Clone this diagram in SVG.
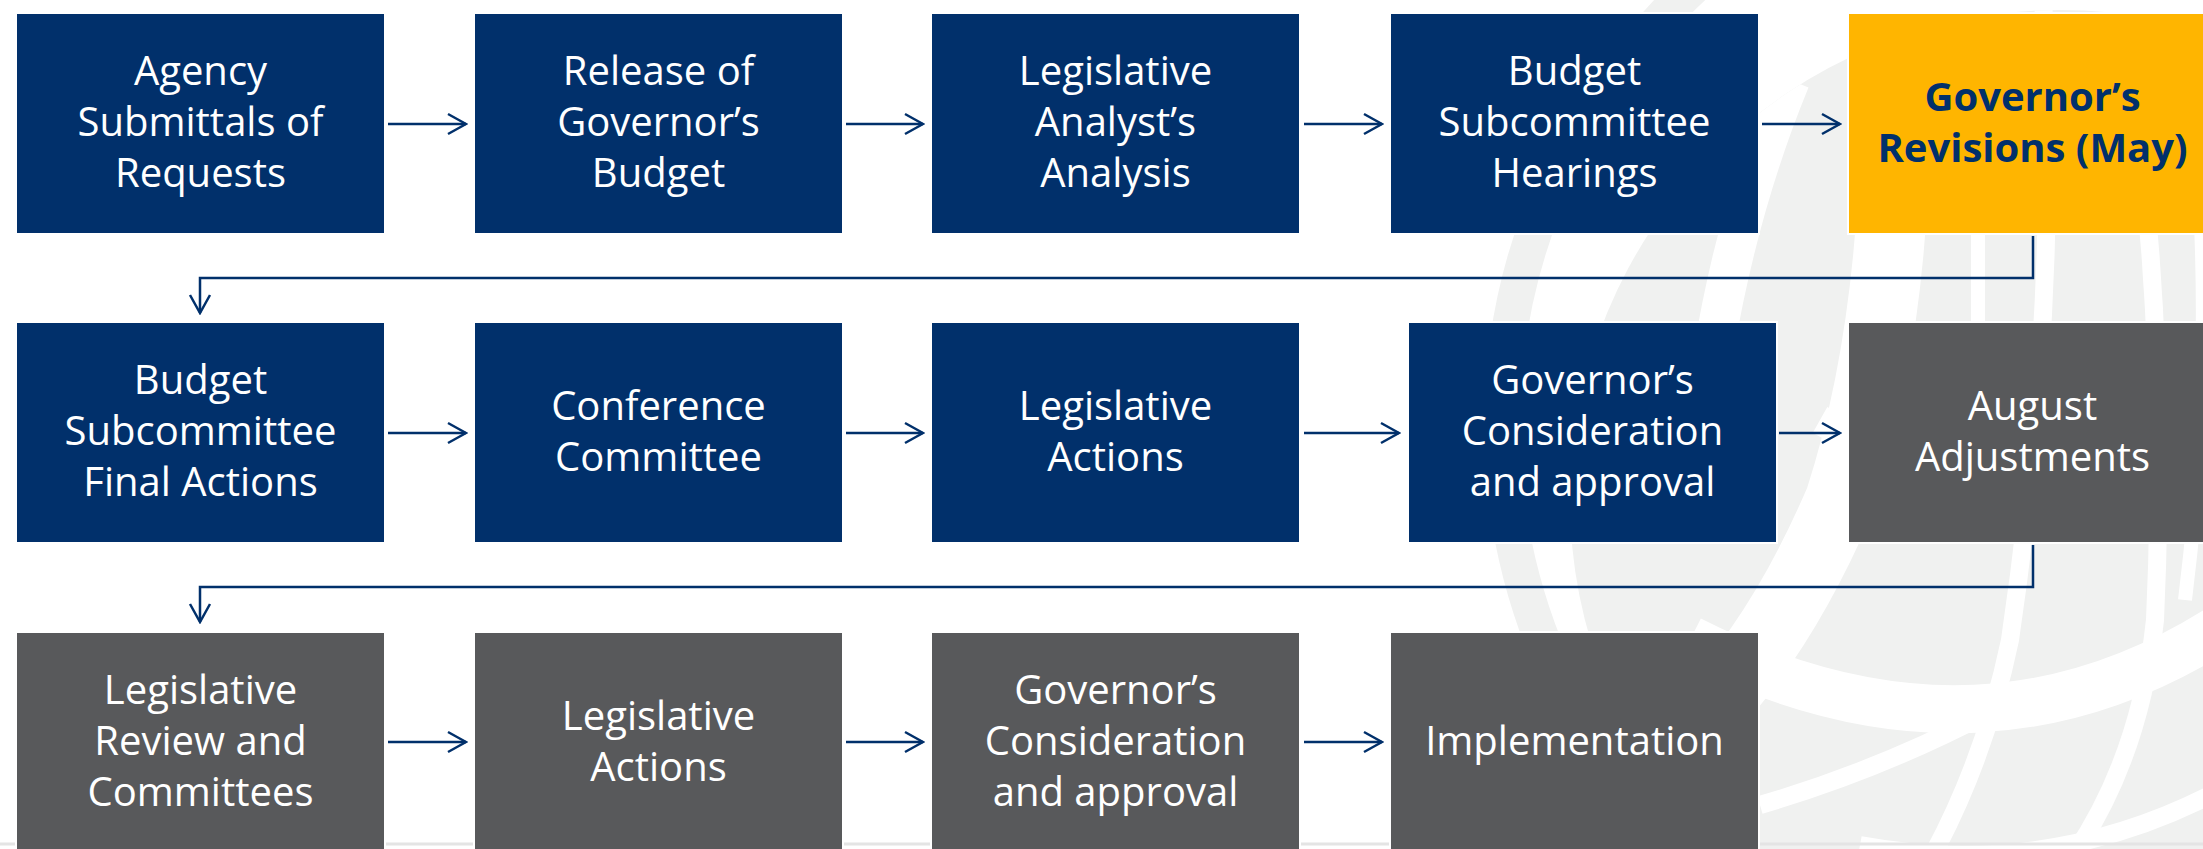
<svg xmlns="http://www.w3.org/2000/svg" width="2203" height="849" viewBox="0 0 2203 849">
<style>
.navy{fill:#01306B;stroke:#ffffff;stroke-width:2}
.gold{fill:#FFB500;stroke:#ffffff;stroke-width:2}
.gray{fill:#58595B;stroke:#ffffff;stroke-width:2}
.t{font-family:"Open Sans","Noto Sans","Liberation Sans",sans-serif;font-size:40px;fill:#ffffff;text-anchor:middle}
.tb{font-family:"Open Sans","Noto Sans","Liberation Sans",sans-serif;font-size:40px;font-weight:bold;fill:#01306B;text-anchor:middle}
.conn{fill:none;stroke:#01306B;stroke-width:2.5}
.wm{fill:none;stroke:#F0F1F0}
.wl{fill:none;stroke:#ffffff}
</style>
<defs>
<marker id="arr" markerUnits="userSpaceOnUse" markerWidth="22" markerHeight="24" viewBox="0 0 22 24" refX="20" refY="12" orient="auto">
<path d="M2,2 L20,12 L2,22" fill="none" stroke="#01306B" stroke-width="2.5"/>
</marker>
<clipPath id="globe"><circle cx="2060" cy="500" r="490"/></clipPath>
</defs>
<rect width="2203" height="849" fill="#ffffff"/>
<g id="watermark">
<circle class="wm" cx="2100" cy="425" r="598" stroke-width="36"/>
<g clip-path="url(#globe)">
<rect x="1500" y="0" width="703" height="849" fill="#F0F1F0"/>
<path class="wl" d="M1895,0 Q1905,300 1840,500 Q1780,640 1700,720" stroke-width="70"/>
<path class="wl" d="M1700,455 Q1720,250 1790,80" stroke-width="40"/>
<path class="wl" d="M1978,0 L1978,340" stroke-width="14"/>
<path class="wl" d="M2043,0 Q2060,300 2010,640 Q1985,760 1930,860" stroke-width="18"/>
<path class="wl" d="M2120,0 Q2170,300 2155,620 Q2140,760 2070,860" stroke-width="18"/>
<path class="wl" d="M2200,200 Q2210,400 2185,600" stroke-width="14"/>
<path class="wl" d="M1690,640 Q1985,790 2240,615" stroke-width="48"/>
<path class="wl" d="M1760,805 Q1880,770 1990,712" stroke-width="18"/>
<path class="wl" d="M1820,420 Q2000,520 2220,400" stroke-width="30"/>
<path class="wl" d="M1860,845 Q2050,880 2220,790" stroke-width="18"/>
</g>
</g>
<line x1="0" y1="844" x2="2203" y2="844" stroke="#E4E4E4" stroke-width="3"/>
<g id="connectors">
<line class="conn" x1="388" y1="124" x2="466" y2="124" marker-end="url(#arr)"/>
<line class="conn" x1="846" y1="124" x2="923" y2="124" marker-end="url(#arr)"/>
<line class="conn" x1="1304" y1="124" x2="1382" y2="124" marker-end="url(#arr)"/>
<line class="conn" x1="1762" y1="124" x2="1840" y2="124" marker-end="url(#arr)"/>
<polyline class="conn" points="2033,236 2033,278 200,278 200,313" marker-end="url(#arr)"/>
<line class="conn" x1="388" y1="433" x2="466" y2="433" marker-end="url(#arr)"/>
<line class="conn" x1="846" y1="433" x2="923" y2="433" marker-end="url(#arr)"/>
<line class="conn" x1="1304" y1="433" x2="1399" y2="433" marker-end="url(#arr)"/>
<line class="conn" x1="1779" y1="433" x2="1840" y2="433" marker-end="url(#arr)"/>
<polyline class="conn" points="2033,545 2033,587 200,587 200,622" marker-end="url(#arr)"/>
<line class="conn" x1="388" y1="742" x2="466" y2="742" marker-end="url(#arr)"/>
<line class="conn" x1="846" y1="742" x2="923" y2="742" marker-end="url(#arr)"/>
<line class="conn" x1="1304" y1="742" x2="1382" y2="742" marker-end="url(#arr)"/>
</g>
<g id="n1"><rect class="navy" x="16" y="13" width="369" height="221"/><text class="t" x="200.5" y="85">Agency</text><text class="t" x="200.5" y="136">Submittals of</text><text class="t" x="200.5" y="187">Requests</text></g>
<g id="n2"><rect class="navy" x="474" y="13" width="369" height="221"/><text class="t" x="658.5" y="85">Release of</text><text class="t" x="658.5" y="136">Governor’s</text><text class="t" x="658.5" y="187">Budget</text></g>
<g id="n3"><rect class="navy" x="931" y="13" width="369" height="221"/><text class="t" x="1115.5" y="85">Legislative</text><text class="t" x="1115.5" y="136">Analyst’s</text><text class="t" x="1115.5" y="187">Analysis</text></g>
<g id="n4"><rect class="navy" x="1390" y="13" width="369" height="221"/><text class="t" x="1574.5" y="85">Budget</text><text class="t" x="1574.5" y="136">Subcommittee</text><text class="t" x="1574.5" y="187">Hearings</text></g>
<g id="n5"><rect class="gold" x="1848" y="13" width="369" height="221"/><text class="tb" x="2032.5" y="110.5">Governor’s</text><text class="tb" x="2032.5" y="161.5">Revisions (May)</text></g>
<g id="n6"><rect class="navy" x="16" y="322" width="369" height="221"/><text class="t" x="200.5" y="394">Budget</text><text class="t" x="200.5" y="445">Subcommittee</text><text class="t" x="200.5" y="496">Final Actions</text></g>
<g id="n7"><rect class="navy" x="474" y="322" width="369" height="221"/><text class="t" x="658.5" y="419.5">Conference</text><text class="t" x="658.5" y="470.5">Committee</text></g>
<g id="n8"><rect class="navy" x="931" y="322" width="369" height="221"/><text class="t" x="1115.5" y="419.5">Legislative</text><text class="t" x="1115.5" y="470.5">Actions</text></g>
<g id="n9"><rect class="navy" x="1408" y="322" width="369" height="221"/><text class="t" x="1592.5" y="394">Governor’s</text><text class="t" x="1592.5" y="445">Consideration</text><text class="t" x="1592.5" y="496">and approval</text></g>
<g id="n10"><rect class="gray" x="1848" y="322" width="369" height="221"/><text class="t" x="2032.5" y="419.5">August</text><text class="t" x="2032.5" y="470.5">Adjustments</text></g>
<g id="n11"><rect class="gray" x="16" y="632" width="369" height="221"/><text class="t" x="200.5" y="704">Legislative</text><text class="t" x="200.5" y="755">Review and</text><text class="t" x="200.5" y="806">Committees</text></g>
<g id="n12"><rect class="gray" x="474" y="632" width="369" height="221"/><text class="t" x="658.5" y="729.5">Legislative</text><text class="t" x="658.5" y="780.5">Actions</text></g>
<g id="n13"><rect class="gray" x="931" y="632" width="369" height="221"/><text class="t" x="1115.5" y="704">Governor’s</text><text class="t" x="1115.5" y="755">Consideration</text><text class="t" x="1115.5" y="806">and approval</text></g>
<g id="n14"><rect class="gray" x="1390" y="632" width="369" height="221"/><text class="t" x="1574.5" y="755">Implementation</text></g>
</svg>
